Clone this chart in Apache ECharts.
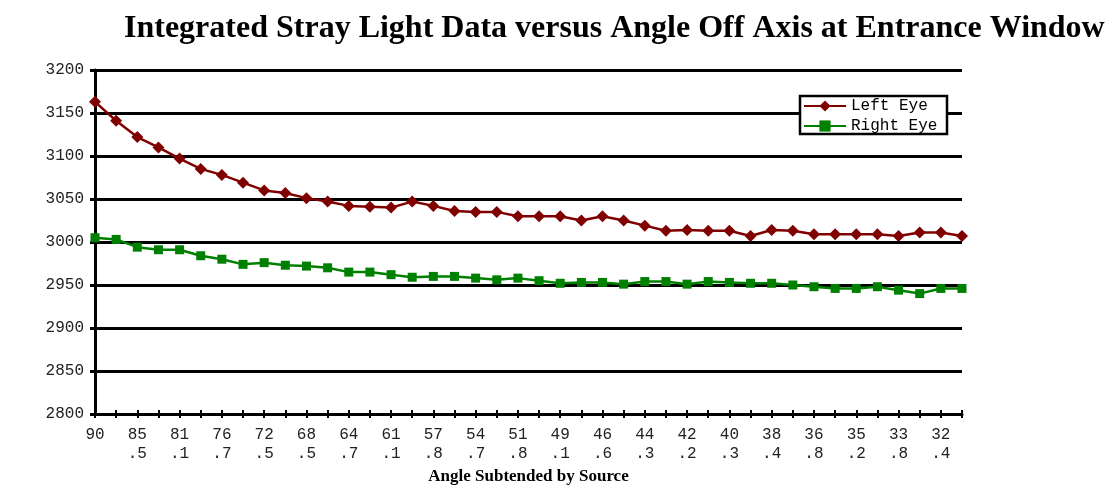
<!DOCTYPE html>
<html>
<head>
<meta charset="utf-8">
<script src="https://cdn.jsdelivr.net/npm/echarts@6/dist/echarts.min.js"></script>
<style>
  html, body { margin: 0; padding: 0; background: #fff; }
  #chart { width: 1111px; height: 487px; }
</style>
</head>
<body>
<div id="chart"></div>
<script>
// Angle subtended by the source (degrees), one entry per measurement
const angles = ['90','87.7','85.5','83.3','81.1','78.9','76.7','74.6','72.5','70.5',
  '68.5','66.6','64.7','62.9','61.1','59.4','57.8','56.2','54.7','53.2',
  '51.8','50.4','49.1','47.8','46.6','45.4','44.3','43.2','42.2','41.2',
  '40.3','39.3','38.4','37.6','36.8','36.0','35.2','34.5','33.8','33.1',
  '32.4','31.7'];

// Integrated stray light readings
const leftEye = [3163,3141,3122,3110,3097,3085,3078,3069,3060,3057,
  3051,3047,3042,3041,3040,3047,3042,3036,3035,3035,
  3030,3030,3030,3025,3030,3025,3019,3013,3014,3013,
  3013,3007,3014,3013,3009,3009,3009,3009,3007,3011,
  3011,3007];
const rightEye = [3005,3003,2994,2991,2991,2984,2980,2974,2976,2973,
  2972,2970,2965,2965,2962,2959,2960,2960,2958,2956,
  2958,2955,2952,2953,2953,2951,2954,2954,2951,2954,
  2953,2952,2952,2950,2948,2946,2946,2948,2944,2940,
  2946,2946];

const yTicks = { min: 2800, max: 3200, step: 50 };

const mono = 'Liberation Mono, Courier New, monospace';
const serif = 'Liberation Serif, Times New Roman, serif';

const chart = echarts.init(document.getElementById('chart'));

chart.setOption({
  animation: false,
  backgroundColor: '#ffffff',
  title: {
    text: 'Integrated Stray Light Data versus Angle Off Axis at Entrance Window',
    left: 119,
    top: 8,
    textStyle: { fontFamily: serif, fontWeight: 'bold', fontSize: 32, color: '#000' }
  },
  legend: {
    orient: 'vertical',
    left: 803,
    top: 98,
    itemWidth: 42,
    itemHeight: 14,
    itemGap: 4,
    padding: 0,
    z: 6,
    textStyle: { fontFamily: mono, fontSize: 16, color: '#000',
                 width: 96, overflow: 'truncate', ellipsis: '' },
    data: ['Left Eye', 'Right Eye']
  },
  graphic: [{
    type: 'rect',
    z: 5,
    shape: { x: 800, y: 96, width: 147, height: 38 },
    style: { fill: '#fff', stroke: '#000', lineWidth: 2.5 }
  }],
  grid: { left: 95, right: 149, top: 70, bottom: 73, outerBoundsMode: 'none', containLabel: false },
  xAxis: [{
    type: 'category',
    data: angles,
    boundaryGap: false,
    name: 'Angle Subtended by Source',
    nameLocation: 'middle',
    nameGap: 54,
    nameTextStyle: { fontFamily: serif, fontWeight: 'bold', fontSize: 17, color: '#000' },
    axisLine: { lineStyle: { color: '#000', width: 3 } },
    axisTick: { show: true, interval: 0, length: 4, lineStyle: { color: '#000', width: 2 } },
    axisLabel: {
      interval: 1,
      margin: 11,
      fontFamily: mono,
      fontSize: 16,
      lineHeight: 19,
      color: '#222',
      formatter: function (v) {
        const p = v.split('.');
        return p.length > 1 ? p[0] + '\n.' + p[1] : v;
      }
    },
    splitLine: { show: false }
  }, {
    // inner half of the crossing tick marks
    type: 'category',
    data: angles,
    boundaryGap: false,
    position: 'bottom',
    axisLine: { show: false },
    axisTick: { show: true, inside: true, interval: 0, length: 4, lineStyle: { color: '#000', width: 2 } },
    axisLabel: { show: false },
    splitLine: { show: false }
  }],
  yAxis: {
    type: 'value',
    min: yTicks.min,
    max: yTicks.max,
    interval: yTicks.step,
    axisLine: { show: true, lineStyle: { color: '#000', width: 3 } },
    axisTick: { show: true, length: 5, lineStyle: { color: '#000', width: 3 } },
    axisLabel: {
      margin: 11, fontFamily: mono, fontSize: 16, color: '#222',
      formatter: function (v) { return String(v); }
    },
    splitLine: { show: true, lineStyle: { color: '#000', width: 3 } }
  },
  series: [{
    name: 'Left Eye',
    type: 'line',
    data: leftEye,
    symbol: 'diamond',
    symbolSize: [12, 12],
    itemStyle: { color: '#800000' },
    lineStyle: { color: '#800000', width: 2.5 },
    z: 3
  }, {
    name: 'Right Eye',
    type: 'line',
    data: rightEye,
    symbol: 'rect',
    symbolSize: 9,
    itemStyle: { color: '#008000' },
    lineStyle: { color: '#008000', width: 2.5 },
    z: 3
  }]
});
</script>
</body>
</html>
